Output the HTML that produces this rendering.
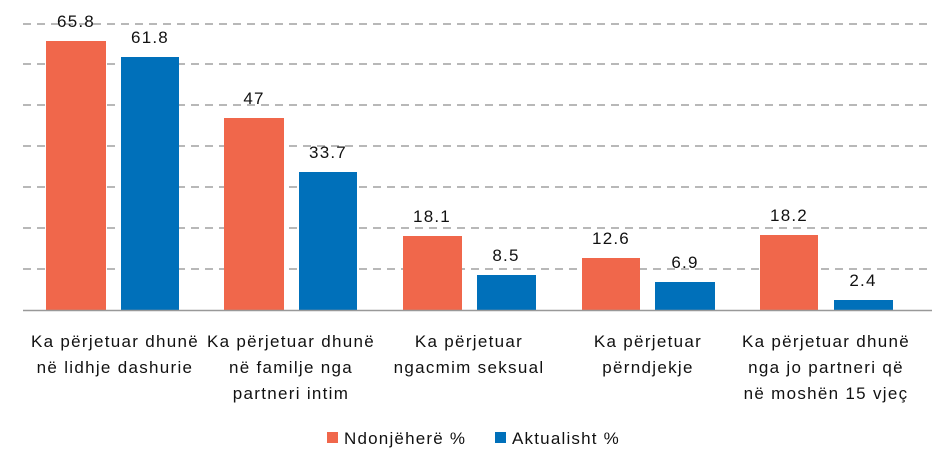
<!DOCTYPE html>
<html><head><meta charset="utf-8"><style>
html,body{margin:0;padding:0;background:#fff;}
svg{display:block;font-family:"Liberation Sans",sans-serif;}
</style></head><body>
<svg width="939" height="471" viewBox="0 0 939 471">
<g stroke="#a0a0a0" stroke-width="1.5" stroke-dasharray="8,6">
<line x1="23" x2="932" y1="24" y2="24"/>
<line x1="23" x2="932" y1="64" y2="64"/>
<line x1="23" x2="932" y1="105" y2="105"/>
<line x1="23" x2="932" y1="146" y2="146"/>
<line x1="23" x2="932" y1="187" y2="187"/>
<line x1="23" x2="932" y1="228" y2="228"/>
<line x1="23" x2="932" y1="269" y2="269"/>
</g>
<g fill="#F0674B">
<rect x="46" y="41" width="60" height="269"/>
<rect x="224" y="118" width="60" height="192"/>
<rect x="403" y="236" width="59" height="74"/>
<rect x="582" y="258" width="58" height="52"/>
<rect x="760" y="235" width="58" height="75"/>
</g>
<g fill="#0070BA">
<rect x="121" y="57" width="58" height="253"/>
<rect x="299" y="172" width="58" height="138"/>
<rect x="477" y="275" width="59" height="35"/>
<rect x="655" y="282" width="60" height="28"/>
<rect x="834" y="300" width="59" height="10"/>
</g>
<line x1="23" x2="932" y1="310.5" y2="310.5" stroke="#999" stroke-width="1.5"/>
<g font-size="17" letter-spacing="1.2" fill="#111" text-anchor="middle">
<text x="76" y="27">65.8</text>
<text x="150" y="43">61.8</text>
<text x="254" y="104">47</text>
<text x="328" y="158">33.7</text>
<text x="432" y="222">18.1</text>
<text x="506" y="261">8.5</text>
<text x="611" y="244">12.6</text>
<text x="685" y="268">6.9</text>
<text x="789" y="221">18.2</text>
<text x="863" y="286">2.4</text>
</g>
<g font-size="17" letter-spacing="1.3" fill="#111" text-anchor="middle">
<text x="115" y="347">Ka përjetuar dhunë</text>
<text x="115" y="373">në lidhje dashurie</text>
<text x="291" y="347">Ka përjetuar dhunë</text>
<text x="291" y="373">në familje nga</text>
<text x="291" y="399">partneri intim</text>
<text x="469" y="347">Ka përjetuar</text>
<text x="469" y="373">ngacmim seksual</text>
<text x="648" y="347">Ka përjetuar</text>
<text x="648" y="373">përndjekje</text>
<text x="826" y="347">Ka përjetuar dhunë</text>
<text x="826" y="373">nga jo partneri që</text>
<text x="826" y="399">në moshën 15 vjeç</text>
</g>
<rect x="327" y="432" width="11" height="11" fill="#F0674B"/>
<text x="344" y="444" font-size="17" letter-spacing="1.2" fill="#111">Ndonjëherë %</text>
<rect x="495" y="432" width="11" height="11" fill="#0070BA"/>
<text x="512" y="444" font-size="17" letter-spacing="1.2" fill="#111">Aktualisht %</text>
</svg>
</body></html>
